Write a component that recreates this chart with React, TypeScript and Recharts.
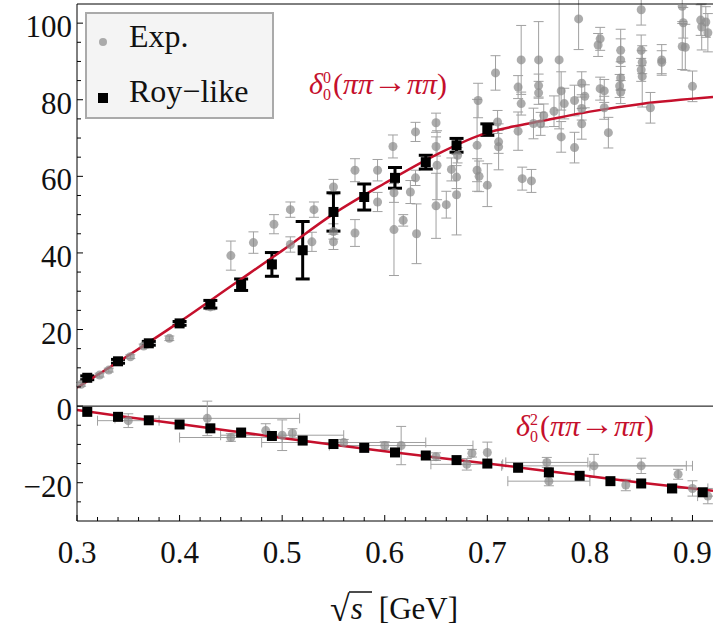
import React from 'react';
import {
  ComposedChart,
  Scatter,
  Line,
  XAxis,
  YAxis,
  ErrorBar,
  ReferenceLine,
} from 'recharts';

const RED = '#c5102c';
const FONT = "'Liberation Serif', 'DejaVu Serif', serif";
const serif = { fontFamily: FONT };

// x ticks (minor every 0.02) and y ticks (minor every 5)
const xTicks = [0.3, 0.32, 0.34, 0.36, 0.38, 0.4, 0.42, 0.44, 0.46, 0.48, 0.5, 0.52, 0.54, 0.56, 0.58, 0.6, 0.62, 0.64, 0.66, 0.68, 0.7, 0.72, 0.74, 0.76, 0.78, 0.8, 0.82, 0.84, 0.86, 0.88, 0.9];
const xLabels = [0.3, 0.4, 0.5, 0.6, 0.7, 0.8, 0.9];
const yTicks = [-25, -20, -15, -10, -5, 0, 5, 10, 15, 20, 25, 30, 35, 40, 45, 50, 55, 60, 65, 70, 75, 80, 85, 90, 95, 100];
const yLabels = [-20, 0, 20, 40, 60, 80, 100];

// fitted curves
const curveX = [0.3, 0.35, 0.4, 0.45, 0.5, 0.55, 0.6, 0.65, 0.7, 0.725, 0.75, 0.8, 0.85, 0.92];
const delta00 = [4.8, 13.2, 22.0, 31.3, 40.6, 50.2, 58.2, 65.6, 71.4, 73.0, 74.3, 76.9, 78.9, 80.7];
const delta02 = [-1.0, -2.9, -4.7, -6.5, -8.3, -10.1, -11.8, -13.4, -15.0, -15.8, -16.7, -18.3, -20.0, -22.1];

// Roy-like solutions
const royX = [0.31, 0.34, 0.37, 0.4, 0.43, 0.46, 0.49, 0.52, 0.55, 0.58, 0.61, 0.64, 0.67, 0.7];
const royUpper = [7.4, 11.7, 16.4, 21.6, 26.6, 31.7, 37.0, 40.7, 50.7, 54.6, 59.6, 63.7, 68.1, 72.2];
const royUpperErr = [0.5, 0.5, 0.5, 0.5, 1.0, 1.5, 3.1, 7.5, 5.0, 3.4, 2.7, 1.8, 1.8, 1.5];
const royLowX = [0.31, 0.34, 0.37, 0.4, 0.43, 0.46, 0.49, 0.52, 0.55, 0.58, 0.61, 0.64, 0.67, 0.7, 0.73, 0.76, 0.79, 0.82, 0.85, 0.88, 0.91];
const royLower = [-1.5, -2.8, -3.7, -4.8, -5.8, -6.9, -7.8, -9.0, -9.9, -10.9, -12.1, -12.9, -14.1, -15.0, -16.1, -17.3, -18.2, -19.6, -20.2, -21.5, -22.5];

// experimental data [x, y, yErr]
const expUpper = [
  [0.304, 5.7, 0.5], [0.322, 8.1, 0.5], [0.331, 9.4, 0.5], [0.352, 12.9, 0.5], [0.365, 15.7, 0.5],
  [0.39, 17.7, 0.6], [0.43, 25.9, 0.8], [0.45, 39.3, 3.8], [0.472, 42.7, 2.8], [0.492, 47.5, 2.5],
  [0.508, 51.3, 2.0], [0.508, 42.2, 2.0], [0.531, 51.3, 2.0], [0.529, 42.9, 2.5], [0.55, 57.2, 2.0],
  [0.55, 45.6, 2.0], [0.55, 42.9, 2.0], [0.571, 61.6, 3.0], [0.571, 45.2, 3.5], [0.593, 61.6, 2.8],
  [0.593, 53.3, 2.5], [0.608, 67.8, 3.0], [0.609, 55.7, 2.5], [0.609, 46.1, 12], [0.618, 48.5, 1.5],
  [0.625, 55.9, 3.0], [0.63, 71.6, 2.5], [0.63, 59.6, 2.0], [0.631, 45.0, 7.8], [0.65, 74.0, 2.5],
  [0.65, 67.8, 2.5], [0.651, 62.9, 9.0], [0.65, 52.3, 8.5], [0.66, 52.6, 3.5], [0.665, 61.8, 3.0],
  [0.67, 59.8, 3.0], [0.67, 55.2, 10.5], [0.671, 65.5, 2.0], [0.691, 79.8, 4.5], [0.69, 68.1, 12],
  [0.69, 61.6, 3.0], [0.692, 60.0, 4.0], [0.7, 57.7, 5.6], [0.708, 87.0, 4.5], [0.71, 74.2, 3.0],
  [0.711, 69.0, 3.0], [0.711, 67.7, 6.0], [0.73, 83.3, 3.0], [0.73, 71.8, 5.0], [0.733, 90.4, 9.0],
  [0.733, 79.0, 3.0], [0.734, 59.4, 3.0], [0.743, 58.8, 3.0], [0.745, 73.8, 4.0], [0.75, 90.4, 10],
  [0.75, 83.7, 3.0], [0.75, 81.8, 3.0], [0.752, 73.7, 3.0], [0.755, 75.9, 3.0], [0.765, 77.0, 4.0],
  [0.77, 90.4, 18], [0.772, 82.3, 5.0], [0.772, 70.3, 4.0], [0.775, 79.0, 4.0], [0.785, 79.8, 4.0],
  [0.785, 67.5, 4.0], [0.789, 101.1, 8.0], [0.792, 84.3, 3.0], [0.792, 77.7, 3.0], [0.792, 73.7, 4.0],
  [0.795, 80.9, 3.0], [0.808, 94.3, 3.0], [0.81, 95.9, 3.0], [0.81, 82.9, 3.0], [0.814, 82.3, 3.0],
  [0.814, 77.9, 3.0], [0.818, 71.4, 4.0], [0.83, 92.9, 3.0], [0.83, 90.4, 8.0], [0.83, 85.7, 3.0],
  [0.829, 83.6, 3.0], [0.83, 82.0, 3.0], [0.85, 103.5, 4.0], [0.85, 92.9, 4.0], [0.851, 89.8, 3.0],
  [0.85, 87.8, 3.0], [0.851, 86.1, 8.0], [0.859, 77.9, 4.0], [0.87, 90.4, 4.0], [0.87, 89.8, 3.0],
  [0.89, 104.4, 4.0], [0.891, 100.1, 4.0], [0.89, 93.9, 6.0], [0.893, 93.7, 6.0], [0.9, 83.5, 4.0],
  [0.908, 100.8, 4.0], [0.913, 100.3, 4.0], [0.909, 99.0, 6.0], [0.915, 97.5, 5.0],
];

// experimental data [x, y, xErr, yErr]
const expLower = [
  [0.35, -3.8, 0.03, 1.8], [0.427, -3.2, 0.09, 4.5], [0.45, -8.2, 0.05, 1.0], [0.484, -6.4, 0, 1.8],
  [0.5, -7.6, 0.06, 4.0], [0.51, -7.1, 0, 1.2], [0.56, -9.5, 0.08, 0.8], [0.6, -10.3, 0, 1.0],
  [0.616, -10.3, 0.07, 5.0], [0.65, -13.2, 0, 1.0], [0.68, -15.2, 0.035, 1.5], [0.685, -12.3, 0, 1.0],
  [0.7, -12.1, 0, 2.7], [0.758, -14.7, 0.04, 1.3], [0.76, -19.6, 0.04, 1.2], [0.804, -15.6, 0.09, 3.0],
  [0.85, -15.6, 0.05, 2.0], [0.835, -20.6, 0, 1.5], [0.886, -17.8, 0, 1.3], [0.9, -21.5, 0.015, 2.0],
  [0.915, -23.5, 0.01, 2.0],
];

const curve00Data = curveX.map((x, i) => ({ x, y: delta00[i] }));
const curve02Data = curveX.map((x, i) => ({ x, y: delta02[i] }));
const royUpperData = royX.map((x, i) => ({ x, y: royUpper[i], ey: royUpperErr[i] }));
const royLowerData = royLowX.map((x, i) => ({ x, y: royLower[i], ey: 0.5 }));
const expUpperData = expUpper.map(([x, y, ey]) => ({ x, y, ey }));
const expLowerData = expLower.map(([x, y, ex, ey]) => ({ x, y, ex, ey }));

const isMajorX = (v: number) => xLabels.some((l) => Math.abs(l - v) < 1e-6);
const isMajorY = (v: number) => yLabels.includes(v);

const BottomTick = (props: any) => {
  const { x, y, payload } = props;
  const major = isMajorX(payload.value);
  return (
    <g>
      <line x1={x} x2={x} y1={y} y2={y - (major ? 6 : 4)} stroke="#000" />
      {major && (
        <text x={x} y={y + 42} textAnchor="middle" style={serif} fontSize={31} fill="#111">
          {payload.value.toFixed(1)}
        </text>
      )}
    </g>
  );
};

const TopTick = (props: any) => {
  const { x, y, payload } = props;
  const major = isMajorX(payload.value);
  return <line x1={x} x2={x} y1={y} y2={y + (major ? 6 : 4)} stroke="#000" />;
};

const LeftTick = (props: any) => {
  const { x, y, payload } = props;
  const v = payload.value;
  const major = isMajorY(v);
  return (
    <g>
      <line x1={x} x2={x + (major ? 6 : 4)} y1={y} y2={y} stroke="#000" />
      {major && (
        <text x={x - 5} y={y + 14} textAnchor="end" style={serif} fontSize={31} fill="#111">
          {v < 0 ? `\u2212${-v}` : v}
        </text>
      )}
    </g>
  );
};

const GrayDot = (props: any) => (
  <circle cx={props.cx} cy={props.cy} r={4.5} fill="#8c8c8c" fillOpacity={0.72} />
);

const BlackSquare = (props: any) => (
  <rect x={props.cx - 5} y={props.cy - 5} width={10} height={10} fill="#000" />
);

const CurveLabel = ({ x, y, up }: { x: number; y: number; up: string }) => (
  <text x={x} y={y} style={serif} fontSize={30} fill={RED}>
    <tspan fontStyle="italic">δ</tspan>
    <tspan fontSize={16} dy={-11}>{up}</tspan>
    <tspan fontSize={16} dx={-8} dy={17}>0</tspan>
    <tspan dx={2} dy={-6}>(</tspan>
    <tspan fontStyle="italic">ππ</tspan>
    <tspan fontSize={34} dy={-1}>→</tspan>
    <tspan fontStyle="italic" dy={1}>ππ</tspan>
    <tspan>)</tspan>
  </text>
);

export default function App() {
  return (
    <div style={{ position: 'absolute', left: 0, top: 0, width: 713, height: 630, background: '#fff' }}>
      <ComposedChart width={713} height={630} margin={{ top: 3, right: 0, bottom: 0, left: 0 }}>
        <XAxis
          dataKey="x"
          type="number"
          domain={[0.3, 0.92]}
          allowDataOverflow
          ticks={xTicks}
          interval={0}
          tickSize={0}
          tickMargin={0}
          tickLine={false}
          tick={BottomTick}
          axisLine={{ stroke: '#000' }}
          height={109}
        />
        <XAxis
          xAxisId="top"
          orientation="top"
          type="number"
          domain={[0.3, 0.92]}
          allowDataOverflow
          ticks={xTicks}
          interval={0}
          tickSize={0}
          tickMargin={0}
          tickLine={false}
          tick={TopTick}
          axisLine={{ stroke: '#000' }}
          height={1}
        />
        <YAxis
          type="number"
          domain={[-30, 105]}
          allowDataOverflow
          ticks={yTicks}
          interval={0}
          tickSize={0}
          tickMargin={0}
          tickLine={false}
          tick={LeftTick}
          axisLine={{ stroke: '#000' }}
          width={77}
        />
        <ReferenceLine y={0} stroke="#000" strokeWidth={1} />
        <Scatter name="Exp." data={expUpperData} dataKey="y" shape={GrayDot} isAnimationActive={false}>
          <ErrorBar dataKey="ey" direction="y" width={5} stroke="#a0a0a0" strokeWidth={1} />
        </Scatter>
        <Scatter name="Exp." data={expLowerData} dataKey="y" shape={GrayDot} isAnimationActive={false}>
          <ErrorBar dataKey="ex" direction="x" width={5} stroke="#a0a0a0" strokeWidth={1} />
          <ErrorBar dataKey="ey" direction="y" width={5} stroke="#a0a0a0" strokeWidth={1} />
        </Scatter>
        <Scatter name="Roy-like" data={royUpperData} dataKey="y" shape={BlackSquare} isAnimationActive={false}>
          <ErrorBar dataKey="ey" direction="y" width={7} stroke="#000" strokeWidth={3} />
        </Scatter>
        <Scatter name="Roy-like" data={royLowerData} dataKey="y" shape={BlackSquare} isAnimationActive={false} />
        <Line data={curve00Data} dataKey="y" type="monotone" stroke={RED} strokeWidth={2.5} dot={false} activeDot={false} isAnimationActive={false} />
        <Line data={curve02Data} dataKey="y" type="monotone" stroke={RED} strokeWidth={2.5} dot={false} activeDot={false} isAnimationActive={false} />
      </ComposedChart>

      <svg width={713} height={630} style={{ position: 'absolute', left: 0, top: 0, pointerEvents: 'none' }}>
        {/* legend */}
        <rect x={86} y={13} width={187} height={105} fill="#f4f4f4" stroke="#aaa" strokeWidth={2} />
        <circle cx={103} cy={42} r={4} fill="#aaa" />
        <rect x={98} y={93} width={10} height={10} fill="#000" />
        <text x={129} y={47} style={serif} fontSize={32} fill="#111">Exp.</text>
        <text x={129} y={102} style={serif} fontSize={32} fill="#111">Roy{'\u2212'}like</text>

        {/* curve labels */}
        <CurveLabel x={309} y={94} up="0" />
        <CurveLabel x={516} y={436} up="2" />

        {/* x axis title */}
        <text x={330} y={619} style={serif} fontSize={31} fill="#111">
          <tspan fontSize={36} dy={2}>√</tspan>
          <tspan fontStyle="italic" dx={1} dy={-2}>s</tspan>
          <tspan dx={16}>[GeV]</tspan>
        </text>
        <line x1={349} x2={372} y1={592} y2={592} stroke="#111" strokeWidth={1.5} />
      </svg>
    </div>
  );
}
